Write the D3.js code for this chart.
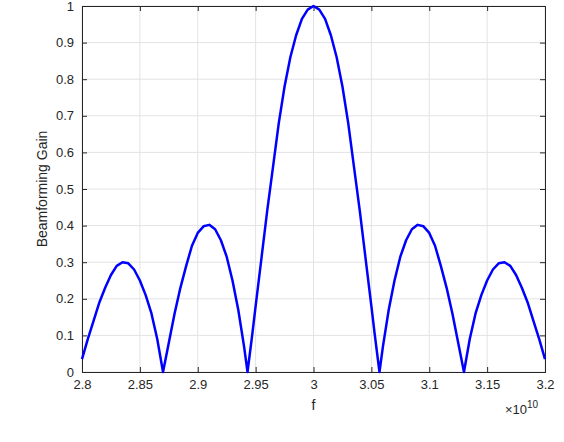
<!DOCTYPE html>
<html><head><meta charset="utf-8">
<script src="https://cdn.jsdelivr.net/npm/d3@7"></script>
<style>body{margin:0;background:#fff}svg{font-family:"Liberation Sans",Arial,sans-serif}</style>
</head><body><div id="chart"></div>
<script>
// frequency in units of 1e10
const freq = [2.8, 2.805, 2.81, 2.815, 2.82, 2.825, 2.83, 2.835, 2.84, 2.845, 2.85, 2.855, 2.86, 2.865, 2.87,
  2.875, 2.88, 2.885, 2.89, 2.895, 2.9, 2.905, 2.91, 2.915, 2.92, 2.925, 2.93, 2.935, 2.94, 2.943,
  2.947, 2.95, 2.955, 2.96, 2.965, 2.97, 2.975, 2.98, 2.985, 2.99, 2.995, 3.0,
  3.005, 3.01, 3.015, 3.02, 3.025, 3.03, 3.035, 3.04, 3.045, 3.05, 3.053, 3.057,
  3.06, 3.065, 3.07, 3.075, 3.08, 3.085, 3.09, 3.095, 3.1, 3.105, 3.11, 3.115, 3.12, 3.125, 3.13,
  3.135, 3.14, 3.145, 3.15, 3.155, 3.16, 3.165, 3.17, 3.175, 3.18, 3.185, 3.19, 3.195, 3.2];
const gain = [0.035, 0.09, 0.14, 0.19, 0.23, 0.265, 0.29, 0.30, 0.297, 0.28, 0.25, 0.21, 0.16, 0.09, 0.0,
  0.08, 0.16, 0.23, 0.29, 0.345, 0.38, 0.398, 0.402, 0.39, 0.36, 0.315, 0.25, 0.17, 0.07, 0.0,
  0.1, 0.18, 0.31, 0.44, 0.56, 0.68, 0.78, 0.86, 0.92, 0.965, 0.99, 1.0,
  0.99, 0.965, 0.92, 0.86, 0.78, 0.68, 0.56, 0.44, 0.31, 0.18, 0.1, 0.0,
  0.07, 0.17, 0.25, 0.315, 0.36, 0.39, 0.402, 0.398, 0.38, 0.345, 0.29, 0.23, 0.16, 0.08, 0.0,
  0.09, 0.16, 0.21, 0.25, 0.28, 0.297, 0.30, 0.29, 0.265, 0.23, 0.19, 0.14, 0.09, 0.035];
const xTicks = [2.8, 2.85, 2.9, 2.95, 3.0, 3.05, 3.1, 3.15, 3.2];
const yTicks = [0, 0.1, 0.2, 0.3, 0.4, 0.5, 0.6, 0.7, 0.8, 0.9, 1];

const width = 564, height = 442;
const m = {left: 82, right: 19, top: 6, bottom: 70};
const iw = width - m.left - m.right, ih = height - m.top - m.bottom;

const svg = d3.select('#chart').append('svg').attr('width', width).attr('height', height);
const g = svg.append('g').attr('transform', `translate(${m.left},${m.top})`);

const x = d3.scaleLinear().domain([2.8, 3.2]).range([0, iw]);
const y = d3.scaleLinear().domain([0, 1]).range([ih, 0]);

// grid
g.selectAll('.gx').data(xTicks).enter().append('line')
  .attr('x1', d => x(d)).attr('x2', d => x(d)).attr('y1', 0).attr('y2', ih)
  .attr('stroke', '#e3e3e3');
g.selectAll('.gy').data(yTicks).enter().append('line')
  .attr('y1', d => y(d)).attr('y2', d => y(d)).attr('x1', 0).attr('x2', iw)
  .attr('stroke', '#e3e3e3');

const fmt = d => String(+d.toFixed(2));
g.append('g').attr('transform', `translate(0,${ih})`)
  .call(d3.axisBottom(x).tickValues(xTicks).tickFormat(fmt).tickSize(-5).tickPadding(8));
g.append('g')
  .call(d3.axisLeft(y).tickValues(yTicks).tickFormat(fmt).tickSize(-5).tickPadding(8));
g.append('g').call(d3.axisTop(x).tickValues(xTicks).tickFormat('').tickSize(-5));
g.append('g').attr('transform', `translate(${iw},0)`)
  .call(d3.axisRight(y).tickValues(yTicks).tickFormat('').tickSize(-5));
g.selectAll('.domain, .tick line').attr('stroke', '#262626');
g.selectAll('.tick text').attr('fill', '#262626').style('font-size', '13px');

// curve
const pts = freq.map((f, i) => [f, gain[i]]);
g.append('path').datum(pts)
  .attr('fill', 'none').attr('stroke', '#0000ff').attr('stroke-width', 2.5)
  .attr('stroke-linejoin', 'round')
  .attr('d', d3.line().x(d => x(d[0])).y(d => y(d[1])));

// labels
svg.append('text').attr('x', m.left + iw / 2).attr('y', 410).attr('text-anchor', 'middle')
  .attr('fill', '#262626').style('font-size', '14px').text('f');
svg.append('text').attr('transform', `translate(47,${m.top + ih / 2}) rotate(-90)`)
  .attr('text-anchor', 'middle').attr('fill', '#262626').style('font-size', '14px')
  .text('Beamforming Gain');
const ex = svg.append('text').attr('x', 505).attr('y', 414).attr('fill', '#262626').style('font-size', '13px');
ex.append('tspan').text('×10');
ex.append('tspan').attr('dy', -6).style('font-size', '10px').text('10');
</script></body></html>
